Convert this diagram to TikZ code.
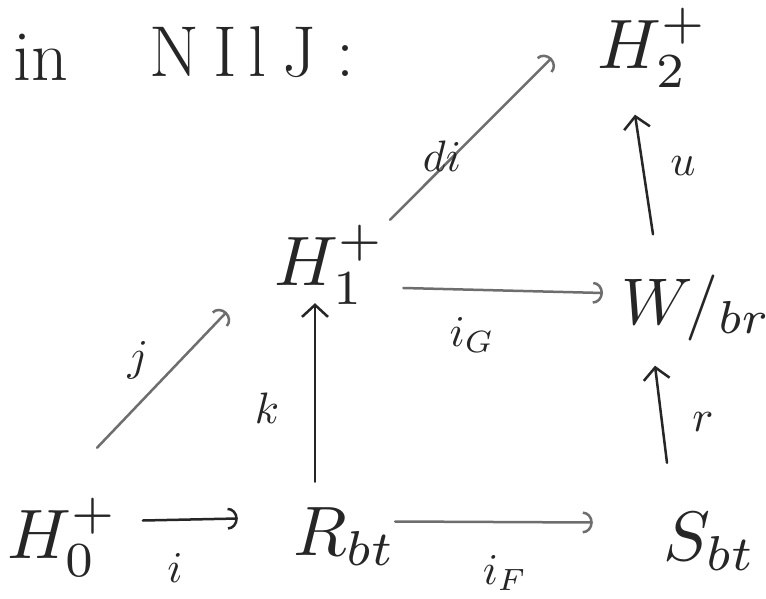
\documentclass[tikz,border=0pt]{standalone}
\usetikzlibrary{arrows.meta}
\definecolor{ink}{HTML}{262626}
\definecolor{inklight}{HTML}{6E6E6E}
\newcommand{\objm}[1]{\scalebox{7}{$#1$}}
\newcommand{\lblm}[1]{\scalebox{4.4}{$#1$}}
\begin{document}
\begin{tikzpicture}[x=1pt,y=-1pt,
  obj/.style={inner sep=0pt, text=ink},
  lbl/.style={inner sep=0pt, text=ink},
  ttl/.style={inner sep=0pt, text=ink, font=\fontsize{72}{80}\selectfont},
  arc/.style={line width=2.5pt, line cap=round, -{Arc Barb[length=10pt,width=22pt,line width=2.5pt]}},
  barb/.style={line width=2.5pt, line cap=round, -{Straight Barb[length=12pt,width=26pt,line width=2.5pt]}},
  dark/.style={draw=ink},
  light/.style={draw=inklight}
]
\useasboundingbox[fill=white] (0,0) rectangle (766,599);

% title
\node[ttl] (tin) at (41,57) {in};
\node[ttl] (tname) at (252,52) {N\kern14pt I\kern12pt l\kern16pt J\kern20pt :};

% objects
\node[obj, minimum width=105pt, minimum height=65pt] (h0) at (62.5,537.5) {\objm{H_0^+}};
\node[obj, minimum width=110pt, minimum height=83pt] (r)  at (345,536.5) {\objm{R_{bt}}};
\node[obj, minimum width=110pt, minimum height=73pt] (s)  at (710,541.5) {\objm{S_{bt}}\hspace{20pt}};
\node[obj, minimum width=80pt,  minimum height=80pt] (h1) at (330,265) {\objm{H_1^+}};
\node[obj, minimum width=132pt, minimum height=49pt] (w)  at (696,307.5) {\scalebox{6.6}{$W/_{br}$}\hspace{22pt}};
\node[obj, minimum width=60pt,  minimum height=56pt] (h2) at (638,48) {\hspace{30pt}\objm{H_2^+}};

% arrows
\draw[arc, dark]  ([xshift=25pt,yshift=17pt]h0.east) -- ([xshift=-52pt,yshift=18pt]r.west);
\draw[arc, light] ([xshift=-5pt,yshift=15pt]r.east) -- ([xshift=-62pt,yshift=19pt]s.west);
\draw[barb, dark] ([xshift=-30pt,yshift=13pt]r.north) -- ([xshift=-15pt,yshift=2pt]h1.south);
\draw[arc, light] ([xshift=34.5pt,yshift=50pt]h0.north) -- ([xshift=-48pt,yshift=-47pt]h1.west);
\draw[arc, light] ([xshift=18pt,yshift=-23pt]h1.east) -- ([xshift=-18pt,yshift=14.5pt]w.west);
\draw[barb, dark] ([xshift=-43pt,yshift=40pt]w.north) -- ([xshift=-3pt,yshift=-27pt]h2.south);
\draw[barb, dark] ([xshift=-43pt,yshift=42pt]s.north) -- ([xshift=-41pt,yshift=-25pt]w.south);
\draw[arc, light] ([xshift=60pt,yshift=5pt]h1.north) -- ([xshift=-16pt,yshift=-10pt]h2.west);

% labels
\node[lbl] (li)  at (175,568) {\lblm{i}};
\node[lbl] (lif) at (505,573) {\lblm{i_F}};
\node[lbl] (lk)  at (267,408) {\lblm{k}};
\node[lbl] (lj)  at (138,360) {\lblm{j}};
\node[lbl] (lig) at (472,335) {\lblm{i_G}};
\node[lbl] (lr)  at (703,422) {\lblm{r}};
\node[lbl] (lu)  at (683,166) {\lblm{u}};
\node[lbl] (ld)  at (442,156) {\lblm{di}};
\end{tikzpicture}
\end{document}
